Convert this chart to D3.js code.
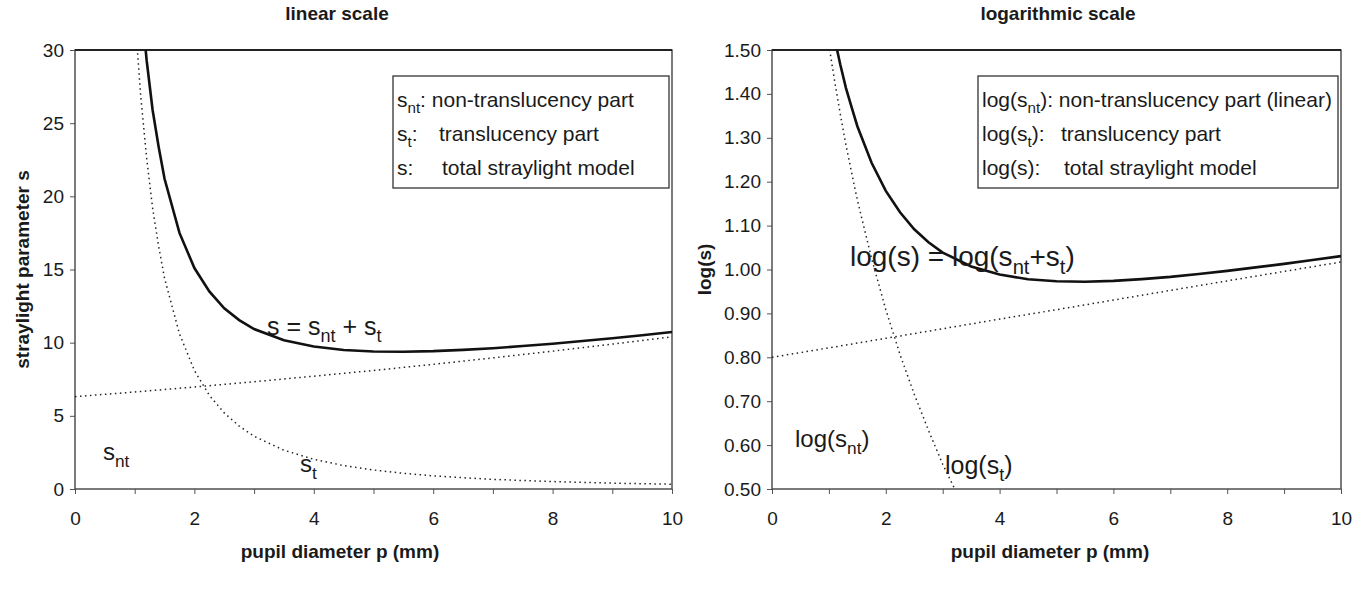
<!DOCTYPE html>
<html>
<head>
<meta charset="utf-8">
<script src="https://cdn.jsdelivr.net/npm/d3@7"></script>
<style>
  body { margin: 0; background: #fff; }
  text { font-family: "Liberation Sans", Arial, sans-serif; fill: #1a1a1a; }
</style>
</head>
<body>
<svg id="chart" width="1352" height="590"></svg>
<script>
// pupil diameters (mm) where the curves were read
const pupilNt = [0, 1, 2, 3, 4, 5, 6, 7, 8, 9, 10]
const sNt = [6.31, 6.63, 6.97, 7.33, 7.71, 8.10, 8.52, 8.96, 9.42, 9.90, 10.40]

const pupil = [1.0, 1.1, 1.2, 1.3, 1.4, 1.5, 1.75, 2.0, 2.25, 2.5, 2.75, 3.0, 3.5,
               4.0, 4.5, 5.0, 5.5, 6.0, 6.5, 7.0, 7.5, 8.0, 8.5, 9.0, 9.5, 10.0]
const sT = [32.5, 26.9, 22.6, 19.2, 16.6, 14.4, 10.6, 8.1, 6.4, 5.2, 4.3, 3.6, 2.65,
            2.03, 1.60, 1.30, 1.07, 0.90, 0.77, 0.66, 0.58, 0.51, 0.45, 0.40, 0.36, 0.33]
const sTotal = [39.1, 33.6, 29.3, 25.9, 23.4, 21.2, 17.5, 15.1, 13.5, 12.35, 11.54, 10.93, 10.16,
                9.74, 9.50, 9.40, 9.38, 9.42, 9.51, 9.62, 9.77, 9.93, 10.11, 10.30, 10.51, 10.73]

const xTickValues = [0, 1, 2, 3, 4, 5, 6, 7, 8, 9, 10]
const yTicksLinear = [0, 5, 10, 15, 20, 25, 30]
const yTicksLog = [0.5, 0.6, 0.7, 0.8, 0.9, 1.0, 1.1, 1.2, 1.3, 1.4, 1.5]

const svg = d3.select('#chart')

// text with subscripts: parts = [[text, isSub], ...]
function richText(g, x, y, parts, size) {
    let t = g.append('text')
        .attr('x', x).attr('y', y)
        .attr('font-size', size)
    let down = false
    parts.forEach(([str, sub]) => {
        let span = t.append('tspan').text(str)
        if (sub) {
            span.attr('font-size', size * 0.72)
            if (!down) { span.attr('dy', size * 0.28); down = true }
        } else if (down) {
            span.attr('dy', -size * 0.28)
            down = false
        }
    })
    return t
}

function drawPanel(opts) {
    let x = d3.scaleLinear().domain([0, 10]).range([opts.left, opts.right])
    let y = d3.scaleLinear().domain(opts.yDomain).range([opts.bottom, opts.top])
    let g = svg.append('g')

    g.append('defs').append('clipPath').attr('id', opts.id + 'Clip')
        .append('rect')
        .attr('x', opts.left).attr('y', opts.top)
        .attr('width', opts.right - opts.left).attr('height', opts.bottom - opts.top)

    g.append('text')
        .attr('x', opts.titleX).attr('y', 20)
        .attr('text-anchor', 'middle')
        .attr('font-size', 19).attr('font-weight', 'bold')
        .text(opts.title)

    let xAxis = g.append('g')
        .attr('transform', 'translate(0,' + opts.bottom + ')')
        .call(d3.axisBottom(x).tickValues(xTickValues).tickSize(5).tickPadding(18)
            .tickFormat(d => d % 2 === 0 ? d : ''))
    let yAxis = g.append('g')
        .attr('transform', 'translate(' + opts.left + ',0)')
        .call(d3.axisLeft(y).tickValues(opts.yTicks).tickSize(5).tickPadding(6)
            .tickFormat(opts.yFormat))
    ;[xAxis, yAxis].forEach(a => {
        a.select('.domain').remove()
        a.selectAll('line').attr('stroke', '#555')
        a.selectAll('text').attr('font-size', 19).attr('fill', '#1a1a1a')
            .style('font-family', '"Liberation Sans", Arial, sans-serif')
    })

    g.append('rect')
        .attr('x', opts.left).attr('y', opts.top)
        .attr('width', opts.right - opts.left).attr('height', opts.bottom - opts.top)
        .attr('fill', 'none').attr('stroke', '#444').attr('stroke-width', 1.4)
    g.append('line')
        .attr('x1', opts.left).attr('x2', opts.right)
        .attr('y1', opts.top).attr('y2', opts.top)
        .attr('stroke', '#222').attr('stroke-width', 2)

    g.append('text')
        .attr('x', opts.xTitleX).attr('y', 558)
        .attr('text-anchor', 'middle')
        .attr('font-size', 19).attr('font-weight', 'bold')
        .text('pupil diameter p (mm)')

    g.append('text')
        .attr('transform', 'translate(' + opts.yTitleX + ',' + ((opts.top + opts.bottom) / 2) + ') rotate(-90)')
        .attr('text-anchor', 'middle')
        .attr('font-size', 19).attr('font-weight', 'bold')
        .text(opts.yTitle)

    let line = (xs, ys) => d3.line()
        .x((d, i) => x(xs[i]))
        .y(d => y(opts.value(d)))(ys)

    let curves = g.append('g').attr('clip-path', 'url(#' + opts.id + 'Clip)')
    curves.append('path').attr('d', line(pupilNt, sNt))
        .attr('fill', 'none').attr('stroke', '#222').attr('stroke-width', 1.5)
        .attr('stroke-dasharray', '1.5,3.5')
    curves.append('path').attr('d', line(pupil, sT))
        .attr('fill', 'none').attr('stroke', '#222').attr('stroke-width', 1.5)
        .attr('stroke-dasharray', '1.5,3.5')
    curves.append('path').attr('d', line(pupil, sTotal))
        .attr('fill', 'none').attr('stroke', '#111').attr('stroke-width', 2.6)

    // legend box
    let lg = opts.legend
    g.append('rect')
        .attr('x', lg.x).attr('y', lg.y).attr('width', lg.w).attr('height', lg.h)
        .attr('fill', '#fff').attr('stroke', '#333').attr('stroke-width', 1.3)
    lg.rows.forEach((row, i) => {
        row.forEach(([px, parts]) => richText(g, lg.x + px, lg.y + 31 + i * 34, parts, 21))
    })

    opts.labels.forEach(l => richText(g, l.x, l.y, l.parts, l.size))
}

drawPanel({
    id: 'lin', title: 'linear scale', titleX: 337, xTitleX: 340,
    left: 75, right: 672, top: 50, bottom: 489,
    yDomain: [0, 30], yTicks: yTicksLinear, yFormat: d3.format('d'),
    yTitle: 'straylight parameter s', yTitleX: 29,
    value: d => d,
    legend: {
        x: 393, y: 76, w: 276, h: 112,
        rows: [
            [[4, [['s'], ['nt', true], [': non-translucency part']]]],
            [[4, [['s'], ['t', true], [':']]], [46, [['translucency part']]]],
            [[4, [['s:']]], [49, [['total straylight model']]]]
        ]
    },
    labels: [
        { x: 267, y: 335, size: 25, parts: [['s = s'], ['nt', true], [' + s'], ['t', true]] },
        { x: 103, y: 460, size: 24, parts: [['s'], ['nt', true]] },
        { x: 300, y: 472, size: 24, parts: [['s'], ['t', true]] }
    ]
})

drawPanel({
    id: 'log', title: 'logarithmic scale', titleX: 1058, xTitleX: 1050,
    left: 772, right: 1341, top: 50, bottom: 489,
    yDomain: [0.5, 1.5], yTicks: yTicksLog, yFormat: d3.format('.2f'),
    yTitle: 'log(s)', yTitleX: 711,
    value: d => Math.log10(d),
    legend: {
        x: 978, y: 76, w: 360, h: 112,
        rows: [
            [[4, [['log(s'], ['nt', true], ['): non-translucency part (linear)']]]],
            [[4, [['log(s'], ['t', true], ['):']]], [83, [['translucency part']]]],
            [[4, [['log(s):']]], [86, [['total straylight model']]]]
        ]
    },
    labels: [
        { x: 850, y: 266, size: 28, parts: [['log(s) = log(s'], ['nt', true], ['+s'], ['t', true], [')']] },
        { x: 795, y: 447, size: 24, parts: [['log(s'], ['nt', true], [')']] },
        { x: 945, y: 474, size: 25, parts: [['log(s'], ['t', true], [')']] }
    ]
})
</script>
</body>
</html>
